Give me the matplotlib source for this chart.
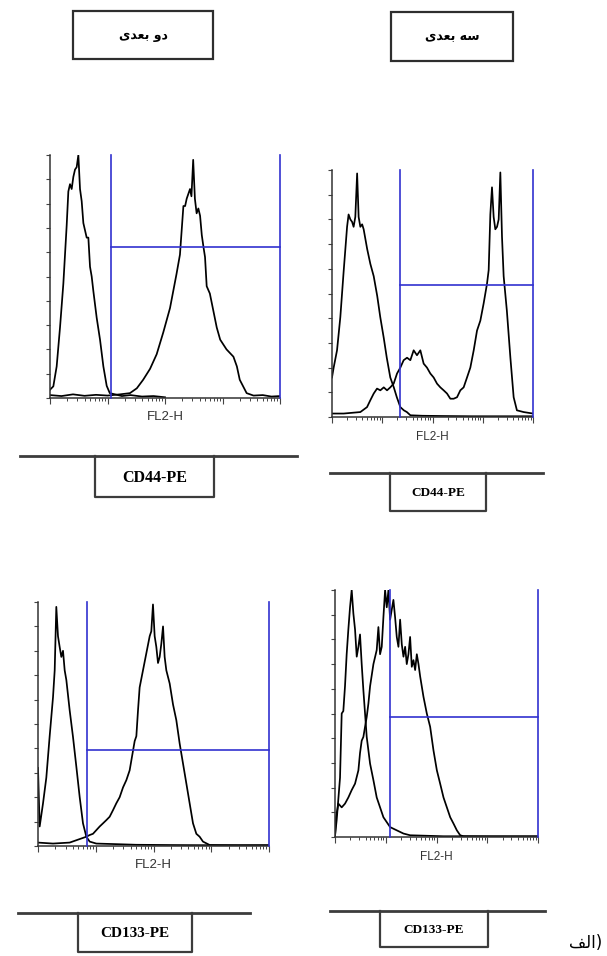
import numpy as np
import matplotlib
matplotlib.use("Agg")
import matplotlib.pyplot as plt
from matplotlib.patches import Rectangle
from matplotlib.ticker import NullFormatter, LogLocator

BLUE = "#3131cf"
LINE_GREY = "#3c3c3c"

# ---- data: FL2-H position (log10 decades) and relative cell count (% of max) ----
# CD44-PE, 2D culture
cd44_2d_iso_log = [0, 0.058, 0.116, 0.174, 0.232, 0.29, 0.319, 0.348, 0.377, 0.406, 0.435,
                   0.464, 0.493, 0.522, 0.551, 0.58, 0.609, 0.638, 0.667, 0.696, 0.725, 0.754,
                   0.812, 0.87, 0.928, 0.986, 1.04, 1.13, 1.25, 1.4, 1.6, 1.8, 2.0]
cd44_2d_iso_cnt = [3.4, 4.8, 13, 29, 47, 71, 85, 88, 86, 91, 94, 95, 100, 86, 81, 72, 69, 66,
                   66, 54, 50, 44, 33, 24, 13, 5, 2, 1.5, 0.8, 1.2, 0.6, 0.8, 0.3]
cd44_2d_log = [0, 0.2, 0.4, 0.6, 0.8, 1.0, 1.217, 1.39, 1.51, 1.62, 1.74, 1.855, 1.97, 2.087,
               2.2, 2.26, 2.32, 2.35, 2.377, 2.406, 2.435, 2.46, 2.49, 2.52, 2.55, 2.58, 2.61,
               2.64, 2.67, 2.696, 2.725, 2.78, 2.84, 2.9, 2.96, 3.07, 3.19, 3.25, 3.3, 3.42,
               3.54, 3.7, 3.85, 4.0]
cd44_2d_cnt = [1.2, 0.8, 1.5, 0.9, 1.3, 1.0, 1.5, 2, 4, 7.5, 12, 18, 27, 37, 51, 59, 79, 79,
               82, 84, 86, 83, 98, 82, 76, 78, 75, 67, 62, 58, 46, 43, 36, 29, 24, 20, 17, 13,
               7.5, 2, 1, 1.2, 0.6, 0.8]

# CD44-PE, 3D culture
cd44_3d_iso_log = [0, 0.033, 0.1, 0.166, 0.232, 0.3, 0.33, 0.365, 0.4, 0.43, 0.464, 0.5, 0.53,
                   0.564, 0.6, 0.63, 0.7, 0.763, 0.83, 0.9, 0.96, 1.03, 1.09, 1.16, 1.23, 1.29,
                   1.36, 1.43, 1.49, 1.56, 1.8, 2.2, 2.8, 3.4, 4.0]
cd44_3d_iso_cnt = [16, 20, 27, 40.5, 59, 77, 82, 80, 79, 77, 81, 98.6, 81, 77, 78, 76, 68, 62,
                   57, 49, 40.5, 32, 24, 16, 12, 8, 4, 2.7, 2, 0.7, 0.5, 0.4, 0.3, 0.3, 0.3]
cd44_3d_log = [0, 0.232, 0.564, 0.697, 0.763, 0.83, 0.896, 0.962, 1.03, 1.095, 1.16, 1.227,
               1.294, 1.36, 1.426, 1.493, 1.559, 1.625, 1.691, 1.758, 1.824, 1.89, 1.957, 2.023,
               2.09, 2.156, 2.222, 2.289, 2.355, 2.421, 2.488, 2.554, 2.62, 2.687, 2.753, 2.82,
               2.886, 2.952, 3.018, 3.085, 3.118, 3.151, 3.184, 3.217, 3.25, 3.284, 3.317, 3.35,
               3.383, 3.416, 3.48, 3.55, 3.615, 3.68, 3.814, 4.0]
cd44_3d_cnt = [1.4, 1.4, 2, 4, 6.8, 9.5, 11.5, 10.8, 12, 10.8, 12, 13.5, 17.6, 20, 23, 24, 23,
               27, 25, 27, 21.6, 20, 17.6, 16, 13.5, 12, 10.8, 9.5, 7.4, 7.4, 8, 10.8, 12, 16,
               20, 27, 35, 39, 46, 54, 59.5, 82, 93, 81, 76, 77, 80, 99, 73, 57, 43, 24, 8, 2.7,
               2, 1.4]

# CD133-PE, 2D culture
cd133_2d_iso_log = [0, 0.029, 0.087, 0.144, 0.202, 0.26, 0.289, 0.317, 0.346, 0.375, 0.404,
                    0.433, 0.462, 0.491, 0.548, 0.606, 0.664, 0.722, 0.779, 0.837, 0.895, 1.01,
                    1.3, 1.7, 2.28, 3.14, 4.0]
cd133_2d_iso_cnt = [32, 8, 17.5, 28, 45, 61, 72, 98, 86, 81.6, 77.5, 80, 72, 68, 55.7, 44.7,
                    32.5, 20, 9.3, 3.8, 1.8, 1, 0.8, 0.5, 0.4, 0.3, 0.3]
cd133_2d_log = [0, 0.26, 0.548, 0.837, 0.895, 0.952, 1.01, 1.068, 1.126, 1.183, 1.241, 1.299,
                1.356, 1.414, 1.472, 1.53, 1.587, 1.645, 1.674, 1.703, 1.732, 1.76, 1.818,
                1.876, 1.934, 1.962, 1.991, 2.02, 2.049, 2.078, 2.107, 2.136, 2.165, 2.193,
                2.222, 2.28, 2.338, 2.395, 2.453, 2.511, 2.569, 2.626, 2.684, 2.742, 2.799,
                2.857, 2.973, 3.434, 4.0]
cd133_2d_cnt = [1.4, 1.0, 1.4, 3.8, 4.5, 5, 6.5, 8, 9.3, 10.6, 12, 14.7, 17.5, 20, 24, 27, 31,
                39, 43, 45, 55.7, 65, 72, 79, 86, 88, 99, 86, 81.6, 75, 77.5, 83, 90, 77.5, 72,
                66.6, 58, 51.6, 42, 33.8, 25.6, 17.5, 9.3, 5, 3.8, 1.8, 0.4, 0.3, 0.3]

# CD133-PE, 3D culture
cd133_3d_iso_log = [0, 0.033, 0.099, 0.132, 0.164, 0.197, 0.23, 0.263, 0.296, 0.329, 0.362,
                    0.395, 0.428, 0.461, 0.493, 0.526, 0.559, 0.625, 0.691, 0.757, 0.822, 0.888,
                    0.954, 1.02, 1.086, 1.217, 1.349, 1.48, 2.138, 3.125, 4.0]
cd133_3d_iso_cnt = [0.5, 6.8, 24, 50, 51, 61, 74, 84, 93, 100, 90.5, 84, 73, 77, 82, 70, 59.5,
                    40.5, 29.7, 23, 16, 12, 8, 6, 4, 2.7, 1.4, 0.7, 0.3, 0.3, 0.3]
cd133_3d_log = [0, 0.02, 0.066, 0.132, 0.197, 0.263, 0.329, 0.395, 0.461, 0.493, 0.526, 0.559,
                0.592, 0.625, 0.658, 0.691, 0.757, 0.822, 0.855, 0.888, 0.921, 0.954, 0.987,
                1.02, 1.053, 1.086, 1.118, 1.151, 1.184, 1.217, 1.25, 1.283, 1.316, 1.349,
                1.382, 1.414, 1.447, 1.48, 1.513, 1.546, 1.579, 1.612, 1.645, 1.678, 1.743,
                1.809, 1.875, 1.941, 2.007, 2.072, 2.138, 2.204, 2.27, 2.336, 2.401, 2.467,
                2.533, 3.125, 4.0]
cd133_3d_cnt = [0, 8, 13.5, 12, 13.5, 16, 19, 21.6, 27, 34, 39, 40.5, 44.6, 48.6, 54, 61, 70,
                75.7, 85, 74, 77, 89, 100, 93, 100, 88, 92, 96, 89, 81, 77, 88, 78, 73, 77, 70,
                74, 81, 68.9, 71.6, 67.6, 74, 70, 65, 56.8, 50, 44.6, 35, 27, 21.6, 16, 12, 8,
                5.4, 2.7, 0.7, 0.3, 0.2, 0.2]

# gates: lower bound (log10 FL2-H) and marker height (% of max)
gate_low = [1.06, 1.36, 0.854, 1.086]
gate_level = [62.3, 53.6, 39.3, 48.6]

# text
header_2d = "\uFBFC\uFEAA\uFECC\uFE91 \uFEED\uFEA9"   # "دو بعدی" (visual order, shaped)
header_3d = "\uFBFC\uFEAA\uFECC\uFE91 \uFEEA\uFEB3"   # "سه بعدی"
panel_tag = "\uFED2\uFEDF\uFE8D)"                      # "الف)"
marker_labels = ["CD44-PE", "CD44-PE", "CD133-PE", "CD133-PE"]

W, H = 607, 956
fig = plt.figure(figsize=(W / 100, H / 100), dpi=100)
fig.patch.set_facecolor("white")

# overlay in pixel coordinates for boxes, separators and labels
ov = fig.add_axes([0, 0, 1, 1])
ov.set_xlim(0, W)
ov.set_ylim(H, 0)
ov.axis("off")


def px_axes(x0, y0, x1, y1):
    return fig.add_axes([x0 / W, 1 - y1 / H, (x1 - x0) / W, (y1 - y0) / H])


def hist_panel(ax, curves, g_lo, g_lvl, label_size):
    ax.set_xscale("log")
    ax.set_xlim(1, 1e4)
    ax.set_ylim(0, 100)
    for lx, cnt in curves:
        ax.plot(10 ** np.asarray(lx), cnt, color="black", lw=1.25)
    kw = dict(color=BLUE, lw=1.2, clip_on=False, zorder=3)
    ax.plot([10 ** g_lo] * 2, [0, 100], **kw)
    ax.plot([1e4] * 2, [0, 100], **kw)
    ax.plot([10 ** g_lo, 1e4], [g_lvl] * 2, **kw)
    for s in ("top", "right"):
        ax.spines[s].set_visible(False)
    for s in ("left", "bottom"):
        ax.spines[s].set_color("#333333")
        ax.spines[s].set_linewidth(1.1)
    ax.set_yticks(np.arange(0, 101, 10))
    ax.yaxis.set_major_formatter(NullFormatter())
    ax.xaxis.set_major_locator(LogLocator(base=10, numticks=6))
    ax.xaxis.set_minor_locator(LogLocator(base=10, subs=np.arange(2, 10), numticks=12))
    ax.xaxis.set_major_formatter(NullFormatter())
    ax.xaxis.set_minor_formatter(NullFormatter())
    ax.tick_params(axis="y", direction="out", length=3, width=0.8, color="#444444")
    ax.tick_params(axis="x", which="major", direction="out", length=4, width=0.8, color="#444444")
    ax.tick_params(axis="x", which="minor", direction="out", length=2.5, width=0.7, color="#444444")
    ax.text(0.5, -0.055, "FL2-H", transform=ax.transAxes, ha="center", va="top",
            fontsize=label_size, color="#333333", family=["Liberation Sans", "DejaVu Sans"])


panels = [
    ((50, 155, 280, 398), [(cd44_2d_iso_log, cd44_2d_iso_cnt), (cd44_2d_log, cd44_2d_cnt)], 9.5),
    ((332, 170, 533, 417), [(cd44_3d_iso_log, cd44_3d_iso_cnt), (cd44_3d_log, cd44_3d_cnt)], 8.5),
    ((38, 602, 269, 846), [(cd133_2d_iso_log, cd133_2d_iso_cnt), (cd133_2d_log, cd133_2d_cnt)], 9.5),
    ((335, 590, 538, 837), [(cd133_3d_iso_log, cd133_3d_iso_cnt), (cd133_3d_log, cd133_3d_cnt)], 8.5),
]
for i, (box, curves, fs) in enumerate(panels):
    ax = px_axes(*box)
    hist_panel(ax, curves, gate_low[i], gate_level[i], fs)

# header boxes
for (x0, y0, w, h), txt in [((73, 11, 140, 48), header_2d), ((391, 12, 122, 49), header_3d)]:
    ov.add_patch(Rectangle((x0, y0), w, h, fill=False, edgecolor="#2e2e2e", lw=1.6))
    ov.text(x0 + w / 2, y0 + h / 2, txt, ha="center", va="center", fontsize=9,
            fontweight="bold", family=["DejaVu Sans"])

# separators with hanging marker boxes
seps = [
    (20, 297, 456, 95, 214, 497, 11.5),
    (330, 543, 473, 390, 486, 511, 9.5),
    (18, 250, 913, 78, 192, 952, 11),
    (330, 545, 911, 380, 488, 947, 9.5),
]
for (lx0, lx1, ly, bx0, bx1, by1, fs), lab in zip(seps, marker_labels):
    ov.plot([lx0, lx1], [ly, ly], color=LINE_GREY, lw=2)
    ov.plot([bx0, bx0, bx1, bx1], [ly, by1, by1, ly], color=LINE_GREY, lw=1.6)
    ov.text((bx0 + bx1) / 2, (ly + by1) / 2 + 1, lab, ha="center", va="center",
            fontsize=fs, fontweight="bold", family=["Liberation Serif", "DejaVu Serif"])

ov.text(602, 943, panel_tag, ha="right", va="center", fontsize=12, family=["DejaVu Sans"])

fig.savefig("out.png", dpi=100, facecolor="white")
